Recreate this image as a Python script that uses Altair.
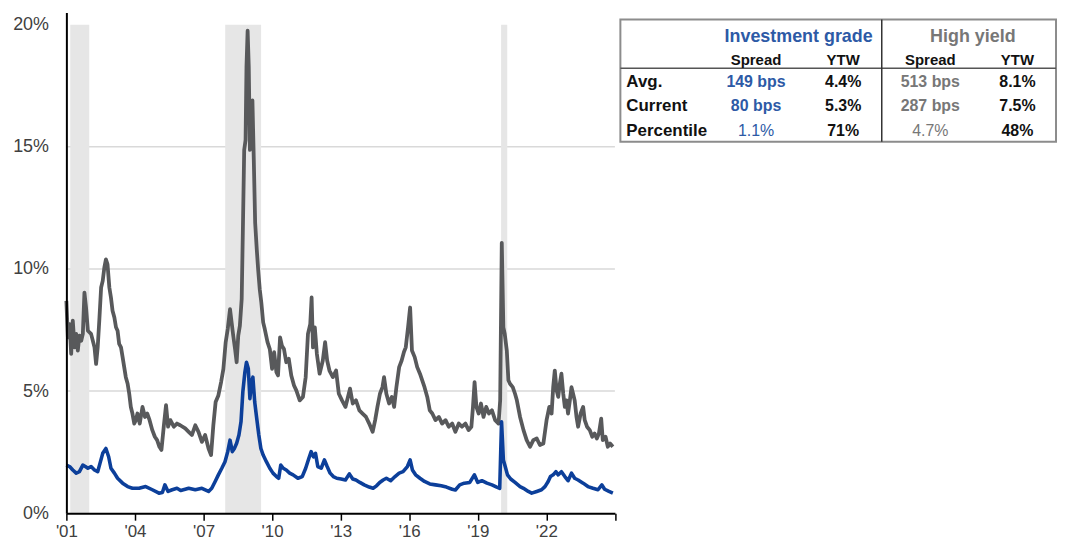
import altair as alt
import pandas as pd

# ---------------- data ----------------
# High yield spread (decimal year, %)
hy_t = [2001.00, 2001.065, 2001.14, 2001.21, 2001.28, 2001.36, 2001.43, 2001.50, 2001.57, 2001.65,
        2001.72, 2001.79, 2001.86, 2001.94, 2002.08, 2002.23, 2002.30, 2002.37, 2002.44, 2002.52,
        2002.59, 2002.66, 2002.73, 2002.80, 2002.88, 2002.95, 2003.02, 2003.10, 2003.17, 2003.24,
        2003.31, 2003.39, 2003.46, 2003.53, 2003.60, 2003.68, 2003.75, 2003.82, 2003.89, 2003.97,
        2004.04, 2004.11, 2004.21, 2004.33, 2004.44, 2004.54, 2004.64, 2004.76, 2004.87, 2004.97,
        2005.07, 2005.16, 2005.26, 2005.36, 2005.45, 2005.55, 2005.70, 2005.84, 2005.98, 2006.20,
        2006.35, 2006.49, 2006.64, 2006.78, 2006.93, 2007.07, 2007.22, 2007.33, 2007.43, 2007.53,
        2007.65, 2007.77, 2007.87, 2007.97, 2008.06, 2008.16, 2008.23, 2008.30, 2008.38, 2008.45,
        2008.52, 2008.59, 2008.67, 2008.72, 2008.78, 2008.84, 2008.88, 2008.93, 2008.98, 2009.03,
        2009.09, 2009.14, 2009.20, 2009.26, 2009.33, 2009.39, 2009.46, 2009.53, 2009.61, 2009.68,
        2009.80, 2009.90, 2010.00, 2010.09, 2010.19, 2010.26, 2010.35, 2010.43, 2010.52, 2010.62,
        2010.73, 2010.84, 2010.96, 2011.06, 2011.21, 2011.35, 2011.47, 2011.57, 2011.67, 2011.73,
        2011.79, 2011.87, 2011.96, 2012.08, 2012.22, 2012.32, 2012.41, 2012.51, 2012.66, 2012.80,
        2012.92, 2013.06, 2013.21, 2013.32, 2013.41, 2013.53, 2013.67, 2013.82, 2013.96, 2014.11,
        2014.25, 2014.40, 2014.51, 2014.61, 2014.72, 2014.83, 2014.90, 2015.00, 2015.12, 2015.24,
        2015.34, 2015.44, 2015.56, 2015.67, 2015.77, 2015.85, 2015.95, 2016.04, 2016.12, 2016.24,
        2016.35, 2016.47, 2016.57, 2016.67, 2016.79, 2016.90, 2017.01, 2017.15, 2017.30, 2017.44,
        2017.59, 2017.73, 2017.88, 2018.02, 2018.17, 2018.31, 2018.46, 2018.60, 2018.72, 2018.79,
        2018.86, 2018.94, 2019.04, 2019.14, 2019.25, 2019.37, 2019.49, 2019.62, 2019.76, 2019.91,
        2019.98, 2020.05, 2020.12, 2020.18, 2020.27, 2020.34, 2020.41, 2020.53, 2020.63, 2020.71,
        2020.85, 2021.00, 2021.14, 2021.29, 2021.43, 2021.58, 2021.72, 2021.87, 2022.01, 2022.13,
        2022.23, 2022.30, 2022.37, 2022.45, 2022.52, 2022.59, 2022.66, 2022.74, 2022.81, 2022.88,
        2022.95, 2023.03, 2023.10, 2023.17, 2023.24, 2023.32, 2023.39, 2023.50, 2023.61, 2023.68,
        2023.78, 2023.90, 2024.01, 2024.11, 2024.21, 2024.30, 2024.40, 2024.47, 2024.59, 2024.69,
        2024.79, 2024.91]
hy_v = [8.69, 7.20, 7.74, 6.52, 7.88, 6.79, 7.34, 6.66, 7.27, 7.06,
        7.34, 9.03, 8.42, 7.47, 7.34, 6.79, 6.11, 6.79, 7.88, 9.24,
        9.51, 10.05, 10.39, 10.19, 9.24, 8.83, 8.29, 8.01, 7.61, 7.47,
        6.93, 6.79, 6.39, 5.98, 5.57, 5.30, 4.89, 4.35, 4.08, 3.67,
        3.81, 4.08, 3.67, 4.35, 3.94, 4.08, 3.81, 3.40, 3.13, 2.99,
        2.72, 2.59, 3.54, 4.42, 3.54, 3.81, 3.54, 3.67, 3.60, 3.47,
        3.33, 3.20, 3.60, 3.33, 2.92, 3.20, 2.65, 2.38, 3.60, 4.55,
        4.82, 5.37, 5.91, 7.00, 7.54, 8.35, 7.81, 7.27, 6.72, 6.18,
        7.27, 7.67, 8.76, 11.48, 14.87, 15.28, 18.26, 19.75, 18.26, 14.87,
        15.82, 16.90, 14.46, 11.88, 10.80, 9.98, 9.17, 8.62, 7.81, 7.54,
        7.00, 6.72, 5.91, 6.59, 5.77, 5.64, 7.20, 6.86, 6.72, 6.18,
        6.32, 5.64, 5.23, 5.03, 4.62, 4.76, 5.57, 7.34, 7.74, 8.83,
        6.79, 7.61, 6.52, 5.71, 6.25, 7.00, 6.25, 5.84, 5.57, 5.84,
        4.89, 4.62, 4.35, 4.76, 5.10, 4.49, 4.62, 4.21, 4.08, 3.94,
        3.67, 3.33, 3.81, 4.35, 4.89, 5.16, 5.57, 4.89, 4.49, 4.76,
        4.35, 5.16, 5.98, 6.25, 6.60, 6.79, 7.61, 8.42, 6.66, 6.39,
        5.98, 5.71, 5.44, 5.16, 4.76, 4.21, 4.08, 3.81, 3.94, 3.67,
        3.81, 3.54, 3.67, 3.33, 3.67, 3.54, 3.67, 3.40, 3.54, 4.35,
        5.37, 4.35, 4.08, 4.49, 3.94, 4.35, 4.08, 4.21, 3.81, 3.67,
        4.62, 11.07, 7.61, 7.34, 6.66, 5.44, 5.30, 5.16, 4.89, 4.62,
        3.94, 3.40, 2.99, 2.72, 2.99, 3.06, 2.79, 2.85, 3.81, 4.35,
        4.08, 5.16, 5.84, 5.03, 4.76, 5.30, 5.71, 4.89, 4.35, 4.62,
        4.08, 4.62, 5.16, 4.89, 4.62, 3.94, 3.54, 4.08, 4.35, 3.81,
        3.54, 3.40, 3.13, 3.26, 3.06, 3.26, 3.87, 2.99, 3.13, 2.72,
        2.85, 2.72]

# Investment grade spread (decimal year, %)
ig_t = [2001.00, 2001.14, 2001.28, 2001.43, 2001.57, 2001.72, 2001.83, 2001.94, 2002.08, 2002.23,
        2002.37, 2002.47, 2002.59, 2002.73, 2002.85, 2002.95, 2003.10, 2003.24, 2003.46, 2003.68,
        2003.89, 2004.18, 2004.47, 2004.76, 2005.05, 2005.20, 2005.31, 2005.45, 2005.63, 2005.84,
        2006.00, 2006.20, 2006.35, 2006.64, 2006.93, 2007.22, 2007.36, 2007.51, 2007.65, 2007.80,
        2007.94, 2008.06, 2008.16, 2008.26, 2008.35, 2008.45, 2008.55, 2008.64, 2008.72, 2008.81,
        2008.88, 2008.96, 2009.03, 2009.10, 2009.16, 2009.24, 2009.33, 2009.42, 2009.51, 2009.61,
        2009.75, 2009.90, 2010.04, 2010.19, 2010.29, 2010.38, 2010.49, 2010.62, 2010.77, 2010.92,
        2011.13, 2011.32, 2011.47, 2011.61, 2011.71, 2011.81, 2011.90, 2012.00, 2012.15, 2012.29,
        2012.41, 2012.54, 2012.68, 2012.83, 2013.02, 2013.21, 2013.38, 2013.53, 2013.67, 2013.84,
        2014.03, 2014.25, 2014.42, 2014.57, 2014.71, 2014.86, 2015.00, 2015.19, 2015.38, 2015.56,
        2015.73, 2015.92, 2016.04, 2016.14, 2016.28, 2016.47, 2016.67, 2016.90, 2017.15, 2017.40,
        2017.63, 2017.88, 2018.02, 2018.21, 2018.41, 2018.65, 2018.85, 2019.00, 2019.18, 2019.40,
        2019.62, 2019.83, 2019.96, 2020.04, 2020.12, 2020.20, 2020.30, 2020.44, 2020.63, 2020.85,
        2021.00, 2021.21, 2021.36, 2021.58, 2021.79, 2021.94, 2022.08, 2022.18, 2022.30, 2022.42,
        2022.52, 2022.66, 2022.81, 2022.95, 2023.10, 2023.24, 2023.39, 2023.61, 2023.82, 2024.04,
        2024.26, 2024.43, 2024.55, 2024.74, 2024.91]
ig_v = [1.97, 1.91, 1.77, 1.64, 1.70, 1.97, 1.91, 1.84, 1.91, 1.77,
        1.70, 2.04, 2.45, 2.65, 2.31, 1.84, 1.64, 1.43, 1.23, 1.09,
        1.02, 1.02, 1.09, 0.96, 0.82, 0.85, 1.16, 0.89, 0.96, 1.02,
        0.93, 0.98, 1.02, 0.96, 1.02, 0.89, 1.02, 1.30, 1.57, 1.84,
        2.11, 2.52, 2.99, 2.52, 2.65, 2.86, 3.20, 3.74, 4.96, 5.77,
        6.18, 5.91, 4.69, 5.37, 5.57, 4.55, 3.87, 3.20, 2.65, 2.38,
        2.11, 1.84, 1.64, 1.50, 1.43, 1.97, 1.84, 1.77, 1.64, 1.57,
        1.43, 1.50, 1.84, 2.25, 2.52, 2.31, 2.45, 1.91, 1.84, 2.18,
        1.91, 1.64, 1.50, 1.43, 1.40, 1.36, 1.61, 1.40, 1.36, 1.26,
        1.16, 1.07, 1.02, 1.12, 1.26, 1.36, 1.43, 1.33, 1.50, 1.64,
        1.70, 1.91, 2.18, 1.77, 1.57, 1.43, 1.30, 1.20, 1.16, 1.12,
        1.07, 0.98, 0.95, 1.16, 1.23, 1.26, 1.57, 1.26, 1.33, 1.23,
        1.16, 1.07, 1.02, 3.74, 2.18, 1.91, 1.57, 1.40, 1.26, 1.09,
        1.02, 0.89, 0.82, 0.89, 0.96, 1.09, 1.30, 1.50, 1.57, 1.70,
        1.57, 1.70, 1.50, 1.33, 1.64, 1.43, 1.36, 1.23, 1.09, 1.02,
        0.96, 1.16, 0.98, 0.89, 0.82]

# recessions (decimal year)
rec_start = [2001.17, 2007.95, 2020.02]
rec_end = [2002.00, 2009.52, 2020.29]
rec_low = [0, 0, 0]
rec_high = [20, 20, 20]

grid_levels = [5, 10, 15]
x_ticks = [2001, 2004, 2007, 2010, 2013, 2016, 2019, 2022, 2025]
y_ticks = [0, 5, 10, 15, 20]

# table
row_labels = ["Avg.", "Current", "Percentile"]
ig_spread = ["149 bps", "80 bps", "1.1%"]
ig_ytw = ["4.4%", "5.3%", "71%"]
hy_spread = ["513 bps", "287 bps", "4.7%"]
hy_ytw = ["8.1%", "7.5%", "48%"]
group_headers = ["Investment grade", "High yield"]
sub_headers = ["Spread", "YTW", "Spread", "YTW"]

# ---------------- styling ----------------
FONT = "Liberation Sans"
HY_LINE = "#58595b"
IG_LINE = "#0c3f9a"
IG_TXT = "#2d5aa6"
HY_TXT = "#777777"
BLACK = "#111111"
TABLE_W = 438
TABLE_H = 123

x_scale = alt.Scale(domain=[2001, 2025], nice=False, zero=False)
y_scale = alt.Scale(domain=[0, 20.5], nice=False, zero=True)
x_label_expr = "datum.value >= 2025 ? '' : \"'\" + format(datum.value % 100, '02d')"
x_axis = alt.Axis(values=x_ticks, labelExpr=x_label_expr, title=None, grid=False,
                  domainColor="black", domainWidth=2, tickColor="black", tickWidth=1.5,
                  tickSize=7, labelFontSize=17, labelColor="#404040", labelFont=FONT,
                  labelPadding=3, labelFlush=False, zindex=2)
y_axis = alt.Axis(values=y_ticks, labelExpr="datum.value + '%'", title=None, grid=False,
                  ticks=False, tickSize=0, domainColor="black", domainWidth=2,
                  labelFontSize=18, labelColor="#404040", labelFont=FONT,
                  labelPadding=18, zindex=2)

df_grid = pd.DataFrame({"v": grid_levels})
df_rec = pd.DataFrame({"t": rec_start, "t2": rec_end, "v": rec_low, "v2": rec_high})
df_hy = pd.DataFrame({"t": hy_t, "v": hy_v})
df_ig = pd.DataFrame({"t": ig_t, "v": ig_v})

grid = alt.Chart(df_grid).mark_rule(color="#d9d9d9", strokeWidth=1.5).encode(
    y=alt.Y("v:Q", scale=y_scale, axis=y_axis)
)
bands = alt.Chart(df_rec).mark_rect(color="#e6e6e6").encode(
    x=alt.X("t:Q", scale=x_scale, axis=x_axis),
    x2="t2:Q",
    y=alt.Y("v:Q", scale=y_scale, axis=y_axis),
    y2="v2:Q",
)
hy_line = alt.Chart(df_hy).mark_line(color=HY_LINE, strokeWidth=3.8, strokeJoin="round").encode(
    x=alt.X("t:Q", scale=x_scale, axis=x_axis),
    y=alt.Y("v:Q", scale=y_scale, axis=y_axis),
)
ig_line = alt.Chart(df_ig).mark_line(color=IG_LINE, strokeWidth=3.6, strokeJoin="round").encode(
    x=alt.X("t:Q", scale=x_scale, axis=x_axis),
    y=alt.Y("v:Q", scale=y_scale, axis=y_axis),
)
main = alt.layer(grid, bands, hy_line, ig_line).properties(width=551.5, height=503.5)

# ---------------- table ----------------
cols = ["label", "igs", "igy", "hys", "hyy"]
rows = ["grp", "sub", "avg", "cur", "pct"]
col_scale = alt.Scale(type="band", domain=cols, paddingInner=0, paddingOuter=0)
row_scale = alt.Scale(type="band", domain=rows, paddingInner=0, paddingOuter=0)
data_rows = ["avg", "cur", "pct"]

df_labels = pd.DataFrame({"row": data_rows, "col": ["label"] * 3, "text": row_labels})

recs = []
for i, r in enumerate(data_rows):
    recs.append({"row": r, "col": "igs", "text": ig_spread[i], "color": IG_TXT, "bold": i < 2})
    recs.append({"row": r, "col": "igy", "text": ig_ytw[i], "color": BLACK, "bold": True})
    recs.append({"row": r, "col": "hys", "text": hy_spread[i], "color": HY_TXT, "bold": i < 2})
    recs.append({"row": r, "col": "hyy", "text": hy_ytw[i], "color": BLACK, "bold": True})
df_vals = pd.DataFrame(recs)
df_bold = df_vals[df_vals["bold"]].drop(columns="bold")
df_reg = df_vals[~df_vals["bold"]].drop(columns="bold")

df_sub = pd.DataFrame({"row": ["sub"] * 4, "col": ["igs", "igy", "hys", "hyy"], "text": sub_headers})
df_head = pd.DataFrame({"row": ["grp", "grp"], "col": ["igy", "hyy"], "text": group_headers,
                        "color": [IG_TXT, HY_TXT]})

X_COL = alt.X("col:N", scale=col_scale, axis=None)
X_COL0 = alt.X("col:N", scale=col_scale, axis=None, bandPosition=0)
Y_ROW = alt.Y("row:N", scale=row_scale, axis=None)

t_labels = alt.Chart(df_labels).mark_text(align="left", baseline="middle", fontWeight="bold",
                                          fontSize=17, dx=6, dy=1.5, color=BLACK, font=FONT).encode(
    x=X_COL0, y=Y_ROW, text="text:N",
)
t_bold = alt.Chart(df_bold).mark_text(align="center", baseline="middle", fontWeight="bold",
                                      fontSize=16, dx=5, dy=1.5, font=FONT).encode(
    x=X_COL, y=Y_ROW, text="text:N",
    color=alt.Color("color:N", scale=None),
)
t_reg = alt.Chart(df_reg).mark_text(align="center", baseline="middle", fontWeight="normal",
                                    fontSize=16, dx=5, dy=1.5, font=FONT).encode(
    x=X_COL, y=Y_ROW, text="text:N",
    color=alt.Color("color:N", scale=None),
)
t_sub = alt.Chart(df_sub).mark_text(align="center", baseline="middle", fontWeight="bold",
                                    fontSize=15, dx=5, dy=4, color=BLACK, font=FONT).encode(
    x=X_COL, y=Y_ROW, text="text:N",
)
t_head = alt.Chart(df_head).mark_text(align="center", baseline="middle", fontWeight="bold",
                                      fontSize=18, dx=4, dy=5, font=FONT).encode(
    x=X_COL0, y=Y_ROW, text="text:N",
    color=alt.Color("color:N", scale=None),
)
divider = alt.Chart(pd.DataFrame({"col": ["hys"]})).mark_rule(color="#333333", strokeWidth=1.5).encode(
    x=X_COL0
)
underline = alt.Chart(pd.DataFrame({"row": ["avg"]})).mark_rule(color="#555555", strokeWidth=1.5).encode(
    y=alt.Y("row:N", scale=row_scale, axis=None, bandPosition=0)
)

table = alt.layer(underline, divider, t_labels, t_head, t_sub, t_bold, t_reg).properties(
    width=TABLE_W, height=TABLE_H,
    view=alt.ViewBackground(stroke="#8c8c8c", strokeWidth=2),
)

spacer = alt.Chart(pd.DataFrame({"a": [0]})).mark_point(opacity=0, size=0).encode(
    x=alt.X("a:Q", axis=None), y=alt.Y("a:Q", axis=None)
).properties(width=TABLE_W, height=1)

right = alt.vconcat(spacer, table, spacing=3)

chart = alt.hconcat(main, right, spacing=1).properties(
    padding={"left": 3.7, "top": 2, "right": 0, "bottom": 0}
).configure(font=FONT).configure_view(stroke="transparent")

chart.save("out.html", embed_options={"renderer": "svg", "actions": False})
